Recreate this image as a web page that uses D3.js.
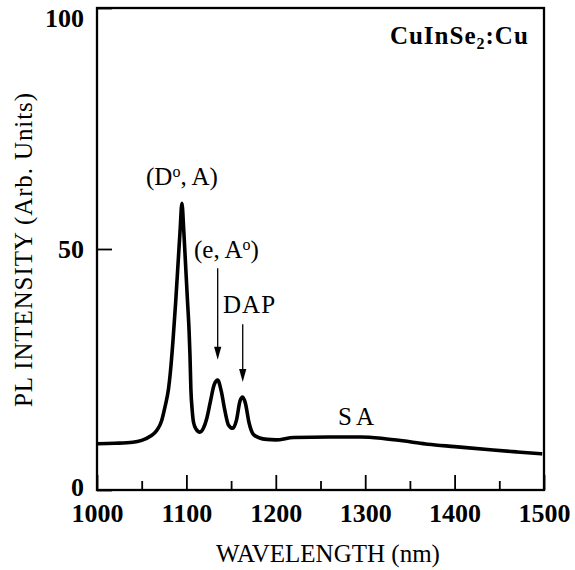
<!DOCTYPE html>
<html>
<head>
<meta charset="utf-8">
<script src="https://cdn.jsdelivr.net/npm/d3@7"></script>
<style>
  body { margin: 0; background: #fff; }
  text { font-family: "Liberation Serif", "Times New Roman", serif; fill: #000; }
</style>
</head>
<body>
<svg id="plotSVG" width="575" height="570"></svg>
<script>
let wavelength = [1000, 1020, 1040, 1050, 1060, 1067, 1072, 1076, 1080, 1082, 1085, 1088, 1091, 1093, 1095,
  1097, 1099, 1101, 1103, 1104, 1105, 1106.5, 1108, 1111, 1115, 1119, 1123, 1127, 1131, 1135,
  1139, 1143, 1147, 1152, 1156, 1160, 1163, 1166, 1170, 1175, 1182, 1190, 1200, 1220, 1260,
  1295, 1320, 1350, 1370, 1400, 1443, 1470, 1498];
let intensity = [9.6, 9.7, 9.9, 10.3, 11.2, 12.4, 14.2, 17.2, 21, 24.3, 31, 39, 48, 54, 59.5,
  54, 47, 40, 33, 28, 21, 16.5, 14, 12.6, 12, 12.8, 15, 18.5, 21.8, 22.8,
  20.5, 16.5, 13.5, 12.8, 14.5, 18.5, 19.3, 18, 14, 11.5, 10.8, 10.5, 10.4, 10.9, 11,
  11, 10.7, 10, 9.5, 9, 8.3, 7.9, 7.5];

let xTickValues = [1000, 1100, 1200, 1300, 1400, 1500];
let xMinorValues = [1050, 1150, 1250, 1350, 1450];
let yTickValues = [0, 50, 100];

let arrowX = [1135, 1163];
let arrowFrom = [46, 34.4];
let arrowTo = [27, 22.4];

let spectrum = wavelength.map((w, i) => ({ w: w, v: intensity[i] }));

let svg = d3.select("#plotSVG");

let xScale = d3.scaleLinear()
  .domain([1000, 1500])
  .range([97, 544]);

let yScale = d3.scaleLinear()
  .domain([0, 100])
  .range([490, 8]);

// ticks point inward, frame drawn separately
svg.append("g")
  .attr("transform", "translate(0,490)")
  .call(d3.axisBottom(xScale)
          .tickValues(xTickValues)
          .tickFormat(d3.format("d"))
          .tickSize(-15)
          .tickPadding(14)
       );

svg.append("g")
  .attr("transform", "translate(0,490)")
  .call(d3.axisBottom(xScale)
          .tickValues(xMinorValues)
          .tickFormat("")
          .tickSize(-9)
       );

svg.append("g")
  .attr("id", "yAxis")
  .attr("transform", "translate(97,0)")
  .call(d3.axisLeft(yScale)
          .tickValues(yTickValues)
          .tickFormat(d3.format("d"))
          .tickSize(-15)
          .tickPadding(13)
       );

svg.selectAll(".domain").remove();
svg.selectAll(".tick line")
  .attr("stroke", "#000")
  .attr("stroke-width", 1.8);
svg.selectAll(".tick text")
  .style("font-family", "'Liberation Serif', 'Times New Roman', serif")
  .style("font-size", "26px")
  .style("font-weight", "bold")
  .attr("fill", "#000");

// top label sits just under the frame, bottom one a bit above the x labels
d3.select("#yAxis").selectAll(".tick text")
  .attr("y", d => d === 100 ? 10 : (d === 0 ? -3 : 0));

svg.append("rect")
  .attr("x", xScale(1000))
  .attr("y", yScale(100))
  .attr("width", xScale(1500) - xScale(1000))
  .attr("height", yScale(0) - yScale(100))
  .attr("fill", "none")
  .attr("stroke", "#000")
  .attr("stroke-width", 2.3);

svg.append("path")
  .datum(spectrum)
  .attr("d", d3.line()
    .x(d => xScale(d.w))
    .y(d => yScale(d.v))
    .curve(d3.curveMonotoneX))
  .attr("fill", "none")
  .attr("stroke", "#000")
  .attr("stroke-width", 3.6)
  .attr("stroke-linejoin", "round");

// arrows
arrowX.forEach((ax, i) => {
  let px = xScale(ax);
  let tip = yScale(arrowTo[i]);
  svg.append("line")
    .attr("x1", px).attr("x2", px)
    .attr("y1", yScale(arrowFrom[i]))
    .attr("y2", tip - 10)
    .attr("stroke", "#000")
    .attr("stroke-width", 1.3);
  svg.append("path")
    .attr("d", `M${px - 3.6},${tip - 13} L${px + 3.6},${tip - 13} L${px},${tip} Z`)
    .attr("fill", "#000");
});

let daLabel = svg.append("text")
  .attr("x", xScale(1095))
  .attr("y", yScale(63.3))
  .attr("text-anchor", "middle")
  .style("font-size", "25px");
daLabel.append("tspan").text("(D");
daLabel.append("tspan").text("o").attr("dy", -8).style("font-size", "16px");
daLabel.append("tspan").text(", A)").attr("dy", 8);

let eaLabel = svg.append("text")
  .attr("x", xScale(1108.5))
  .attr("y", yScale(48.1))
  .style("font-size", "25px");
eaLabel.append("tspan").text("(e, A");
eaLabel.append("tspan").text("o").attr("dy", -8).style("font-size", "16px");
eaLabel.append("tspan").text(")").attr("dy", 8);

svg.append("text")
  .attr("x", xScale(1141))
  .attr("y", yScale(36.7))
  .style("font-size", "25px")
  .style("letter-spacing", "1px")
  .text("DAP");

svg.append("text")
  .attr("x", xScale(1292))
  .attr("y", yScale(13.5))
  .attr("text-anchor", "middle")
  .style("font-size", "25px")
  .style("letter-spacing", "4px")
  .text("SA");

let sampleLabel = svg.append("text")
  .attr("x", xScale(1483))
  .attr("y", yScale(92.5))
  .attr("text-anchor", "end")
  .style("font-size", "25px")
  .style("font-weight", "bold")
  .style("letter-spacing", "1px");
sampleLabel.append("tspan").text("CuInSe");
sampleLabel.append("tspan").text("2").attr("dy", 5).style("font-size", "16px");
sampleLabel.append("tspan").text(":Cu").attr("dy", -5);

svg.append("text")
  .attr("x", 328)
  .attr("y", 562)
  .attr("text-anchor", "middle")
  .style("font-size", "25px")
  .text("WAVELENGTH (nm)");

svg.append("text")
  .attr("transform", "translate(32,250) rotate(-90)")
  .attr("text-anchor", "middle")
  .style("font-size", "25px")
  .attr("textLength", 314)
  .attr("lengthAdjust", "spacing")
  .text("PL INTENSITY (Arb. Units)");
</script>
</body>
</html>
